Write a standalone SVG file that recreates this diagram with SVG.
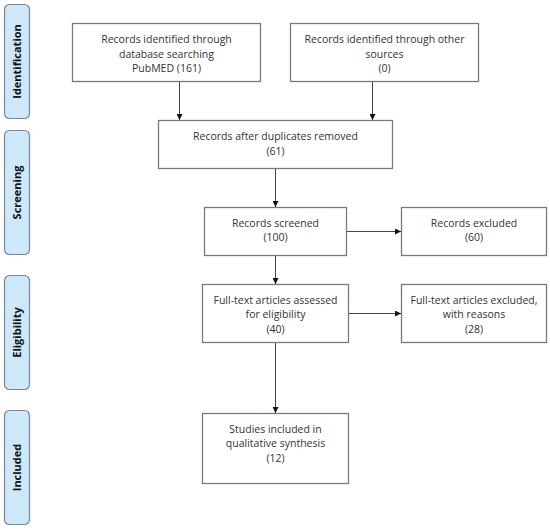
<svg xmlns="http://www.w3.org/2000/svg" width="550" height="530" viewBox="0 0 550 530">
<defs>
<marker id="ah" markerWidth="6" markerHeight="6" refX="6" refY="3" orient="auto" markerUnits="userSpaceOnUse">
<path d="M0,0 L6,3 L0,6 Z" fill="#111"/>
</marker>
<style>
.tab{fill:#cde8fb;stroke:#7b8794;stroke-width:1.2}
.tabt{font-family:"Open Sans","Liberation Sans",sans-serif;font-weight:bold;font-size:11px;fill:#111;text-anchor:middle}
.box{fill:#fff;stroke:#7a7a7a;stroke-width:1.3}
.t{font-family:"Open Sans","Liberation Sans",sans-serif;font-size:10.5px;fill:#333;text-anchor:middle}
.c{stroke:#444;stroke-width:1;fill:none;marker-end:url(#ah)}
</style>
</defs>
<rect width="550" height="530" fill="#fff"/>
<g id="tab-identification"><rect class="tab" x="4.5" y="4.5" width="25" height="114" rx="5"/><text class="tabt" transform="translate(21,61.5) rotate(-90)">Identification</text></g>
<g id="tab-screening"><rect class="tab" x="4.5" y="130.5" width="25" height="124" rx="5"/><text class="tabt" transform="translate(21,192.5) rotate(-90)">Screening</text></g>
<g id="tab-eligibility"><rect class="tab" x="4.5" y="275.5" width="25" height="114" rx="5"/><text class="tabt" transform="translate(21,332.5) rotate(-90)">Eligibility</text></g>
<g id="tab-included"><rect class="tab" x="4.5" y="410.5" width="25" height="114" rx="5"/><text class="tabt" transform="translate(21,467.5) rotate(-90)">Included</text></g>

<g id="n1"><rect class="box" x="72.5" y="23.5" width="188" height="58"/>
<text class="t" x="166.5" y="43">Records identified through</text>
<text class="t" x="166.5" y="57.5">database searching</text>
<text class="t" x="166.5" y="72">PubMED (161)</text></g>
<g id="n2"><rect class="box" x="290.5" y="23.5" width="188" height="58"/>
<text class="t" x="384.5" y="43">Records identified through other</text>
<text class="t" x="384.5" y="57.5">sources</text>
<text class="t" x="384.5" y="72">(0)</text></g>
<g id="n3"><rect class="box" x="158.5" y="120.5" width="234" height="48"/>
<text class="t" x="275.5" y="140">Records after duplicates removed</text>
<text class="t" x="275.5" y="154.5">(61)</text></g>
<g id="n4"><rect class="box" x="204.5" y="207.5" width="142" height="48"/>
<text class="t" x="275.5" y="226.5">Records screened</text>
<text class="t" x="275.5" y="241">(100)</text></g>
<g id="n5"><rect class="box" x="401.5" y="207.5" width="145" height="48"/>
<text class="t" x="474" y="226.5">Records excluded</text>
<text class="t" x="474" y="241">(60)</text></g>
<g id="n6"><rect class="box" x="202.5" y="284.5" width="146" height="58"/>
<text class="t" x="275.5" y="303.5">Full-text articles assessed</text>
<text class="t" x="275.5" y="318">for eligibility</text>
<text class="t" x="275.5" y="332.5">(40)</text></g>
<g id="n7"><rect class="box" x="401.5" y="284.5" width="145" height="58"/>
<text class="t" x="474" y="303.5">Full-text articles excluded,</text>
<text class="t" x="474" y="318">with reasons</text>
<text class="t" x="474" y="332.5">(28)</text></g>
<g id="n8"><rect class="box" x="202.5" y="413.5" width="146" height="70"/>
<text class="t" x="275.5" y="432.5">Studies included in</text>
<text class="t" x="275.5" y="447">qualitative synthesis</text>
<text class="t" x="275.5" y="461.5">(12)</text></g>

<g id="connectors">
<line class="c" x1="179.5" y1="82" x2="179.5" y2="120"/>
<line class="c" x1="372.5" y1="82" x2="372.5" y2="120"/>
<line class="c" x1="275.5" y1="169" x2="275.5" y2="207"/>
<line class="c" x1="347" y1="231.5" x2="401" y2="231.5"/>
<line class="c" x1="275.5" y1="256" x2="275.5" y2="284"/>
<line class="c" x1="349" y1="313.5" x2="401" y2="313.5"/>
<line class="c" x1="275.5" y1="343" x2="275.5" y2="413"/>
</g>
</svg>
